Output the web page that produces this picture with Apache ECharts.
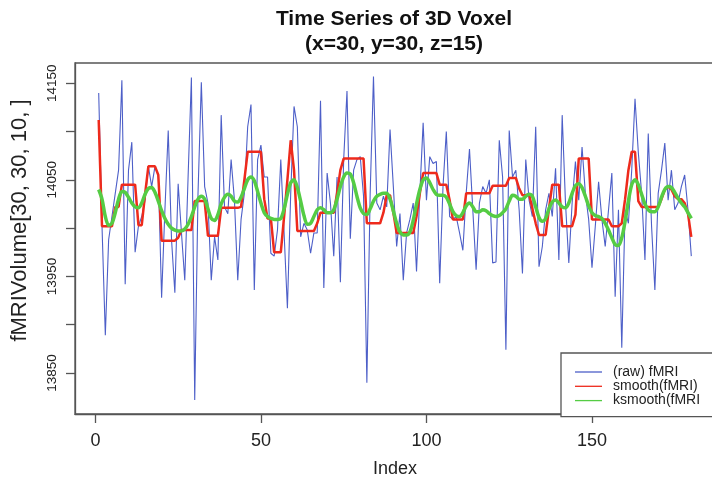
<!DOCTYPE html>
<html>
<head>
<meta charset="utf-8">
<title>Time Series of 3D Voxel</title>
<script src="https://cdn.jsdelivr.net/npm/echarts@6/dist/echarts.min.js"></script>
<style>
  html, body { margin: 0; padding: 0; background: #ffffff; }
  #chart { width: 712px; height: 480px; }
</style>
</head>
<body>
<div id="chart"></div>
<script>
// Voxel (x=30, y=30, z=15) intensity across 180 time points
const rawFMRI = [
  14140,14002,13889,13988,14012,14036,14060,14153,13942,14060,
  14089,13975,14002,14012,14029,14064,14043,14064,14055,13928,
  14019,14101,13988,13933,14046,13995,13946,14053,14156,13822,
  14036,14151,14043,14026,13946,13991,13967,14117,14022,14015,
  14071,14029,13946,14009,14036,14105,14128,13936,14071,14086,
  14053,14053,13974,13971,13998,14071,13995,13917,14036,14126,
  14105,13991,14005,13998,13974,13995,13995,14132,13938,14057,
  14026,13971,14053,13944,14071,14142,13989,14060,14071,14074,
  14033,13840,14036,14157,14026,14019,14033,14022,14102,14043,
  13981,14015,13946,13995,14009,14026,13955,14036,14109,14029,
  14074,14067,14069,13943,14043,14100,14012,14009,14012,13995,
  13977,14036,14082,14019,13957,14026,14043,14036,14050,13964,
  13965,14091,14053,13874,14101,14053,14060,14019,13953,14071,
  14029,14012,14105,13960,13981,14019,14036,14012,14062,13967,
  14117,14026,13964,14026,14069,14029,14084,14036,14009,13959,
  14002,14048,14009,13981,14019,14057,13929,14019,13876,14019,
  14005,14060,14134,14078,14036,13967,14098,14002,13936,14036,
  14060,14088,14029,14060,14019,14026,14043,14055,14019,13971
];

// Running-median smoother output
const smoothFMRI = [
  14112,14002,14002,14002,14002,14022,14022,14045,14045,14045,
  14045,14045,14003,14003,14035,14064,14064,14064,14055,13987,
  13987,13987,13987,13987,13990,13998,13998,13998,13998,14028,
  14028,14028,14028,13992,13992,13992,13992,14021,14021,14021,
  14021,14021,14021,14022,14050,14079,14079,14079,14079,14079,
  14030,14010,14010,13975,13975,13975,14012,14050,14091,14060,
  13997,13997,13997,13997,13997,13997,14005,14016,14016,14016,
  14016,14016,14036,14060,14072,14072,14072,14072,14072,14072,
  14072,14005,14005,14005,14005,14005,14016,14034,14034,14016,
  13995,13995,13995,13995,13995,13995,14012,14036,14057,14057,
  14057,14057,14057,14045,14045,14045,14029,14009,14009,14009,
  14009,14036,14036,14036,14036,14036,14036,14036,14036,14044,
  14044,14044,14044,14044,14052,14052,14052,14041,14034,14034,
  14035,14020,14005,13993,13993,13993,14020,14045,14045,14045,
  14002,14002,14002,14002,14014,14072,14072,14072,14072,14009,
  14009,14009,14009,14009,14009,14002,14002,14002,14005,14030,
  14060,14079,14079,14028,14022,14022,14022,14022,14022,14022,
  14030,14040,14043,14040,14033,14030,14030,14026,14015,13991
];

// Kernel-regression smoother output
const ksmoothFMRI = [
  14040,14030,14012,14003,14005,14016,14030,14038,14037,14032,
  14026,14022,14021,14026,14035,14041,14042,14037,14028,14018,
  14010,14004,14000,13998,13997,13997,13999,14004,14012,14022,
  14030,14033,14030,14020,14010,14008,14014,14025,14032,14035,
  14033,14028,14027,14032,14041,14050,14053,14049,14038,14026,
  14016,14012,14010,14009,14009,14010,14020,14035,14047,14050,
  14042,14028,14013,14004,14005,14012,14019,14021,14019,14016,
  14016,14019,14030,14043,14053,14057,14056,14047,14033,14021,
  14015,14014,14020,14028,14033,14035,14036,14036,14030,14018,
  14005,13996,13993,13993,13996,14008,14025,14040,14050,14052,
  14047,14040,14035,14034,14034,14032,14025,14017,14013,14012,
  14016,14023,14026,14022,14017,14017,14019,14018,14015,14013,
  14012,14013,14016,14020,14028,14034,14033,14030,14030,14033,
  14035,14033,14022,14011,14007,14010,14020,14027,14029,14026,
  14022,14021,14026,14036,14044,14046,14042,14033,14023,14016,
  14013,14012,14010,14005,13998,13990,13983,13982,13990,14007,
  14028,14045,14050,14045,14035,14025,14019,14017,14017,14022,
  14032,14040,14043,14042,14037,14031,14026,14022,14016,14010
];

const seriesNames = ['(raw) fMRI', 'smooth(fMRI)', 'ksmooth(fMRI'];
const xTickValues = [0, 50, 100, 150];
const yTickValues = [13850, 13900, 13950, 14000, 14050, 14100, 14150];
const yLabelValues = [13850, 13950, 14050, 14150];

// pair each value with its 1-based time index
const withIndex = arr => arr.map((v, k) => [k + 1, v]);

const chart = echarts.init(document.getElementById('chart'), null, { renderer: 'canvas' });

const FONT = 'Liberation Sans, Arial, sans-serif';
const FRAME = '#555';
const plainNumber = v => String(v);

const tickStyle = { color: FRAME, width: 1.3 };

chart.setOption({
  backgroundColor: '#ffffff',
  animation: false,
  title: {
    text: 'Time Series of 3D Voxel\n(x=30, y=30, z=15)',
    left: 389,
    top: 2,
    textAlign: 'center',
    textStyle: {
      fontFamily: FONT,
      fontSize: 21,
      fontWeight: 'bold',
      color: '#111',
      lineHeight: 25
    }
  },
  grid: {
    left: 75,
    top: 63,
    right: -3,
    bottom: 66,
    outerBoundsMode: 'none',
    containLabel: false,
    show: true,
    borderColor: FRAME,
    borderWidth: 1.3,
    backgroundColor: '#ffffff'
  },
  legend: {
    orient: 'vertical',
    left: 561,
    top: 353,
    data: seriesNames,
    icon: 'rect',
    backgroundColor: '#ffffff',
    borderColor: FRAME,
    borderWidth: 1.3,
    borderRadius: 0,
    padding: [12, 30, 9, 14],
    itemGap: 0.3,
    itemWidth: 27,
    itemHeight: 1.3,
    textStyle: {
      fontFamily: FONT,
      fontSize: 14,
      lineHeight: 13,
      color: '#222',
      padding: [0, 0, 0, 6]
    }
  },
  xAxis: {
    type: 'value',
    min: -6.16,
    max: 187.16,
    name: 'Index',
    nameLocation: 'middle',
    nameGap: 46,
    nameTextStyle: { fontFamily: FONT, fontSize: 18, color: '#222' },
    axisLine: { show: true, onZero: false, lineStyle: tickStyle },
    splitLine: { show: false },
    axisTick: {
      show: true,
      inside: false,
      length: 9,
      customValues: xTickValues,
      lineStyle: tickStyle
    },
    axisLabel: {
      show: true,
      fontFamily: FONT,
      fontSize: 18,
      color: '#222',
      margin: 18,
      customValues: xTickValues,
      formatter: plainNumber
    }
  },
  yAxis: {
    type: 'value',
    min: 13807.5,
    max: 14171,
    name: 'fMRIVolume[30, 30, 10, ]',
    nameLocation: 'middle',
    nameRotate: 90,
    nameGap: 44,
    nameTextStyle: { fontFamily: FONT, fontSize: 22, color: '#222', padding: [0, 0, 0, 36] },
    axisLine: { show: true, onZero: false, lineStyle: tickStyle },
    splitLine: { show: false },
    axisTick: {
      show: true,
      length: 9,
      customValues: yTickValues,
      lineStyle: tickStyle
    },
    axisLabel: {
      fontFamily: FONT,
      fontSize: 13.5,
      color: '#222',
      rotate: 90,
      margin: 16,
      customValues: yLabelValues,
      formatter: plainNumber
    }
  },
  series: [
    {
      name: seriesNames[0],
      type: 'line',
      data: withIndex(rawFMRI),
      showSymbol: false,
      symbol: 'none',
      color: '#4d5fc8',
      lineStyle: { color: '#4d5fc8', width: 1.1 }
    },
    {
      name: seriesNames[1],
      type: 'line',
      data: withIndex(smoothFMRI),
      showSymbol: false,
      symbol: 'none',
      color: '#ee2a1c',
      lineStyle: { color: '#ee2a1c', width: 2.5 }
    },
    {
      name: seriesNames[2],
      type: 'line',
      data: withIndex(ksmoothFMRI),
      showSymbol: false,
      symbol: 'none',
      smooth: 0.3,
      color: '#55cc44',
      lineStyle: { color: '#55cc44', width: 3.5 }
    }
  ]
});
</script>
</body>
</html>
